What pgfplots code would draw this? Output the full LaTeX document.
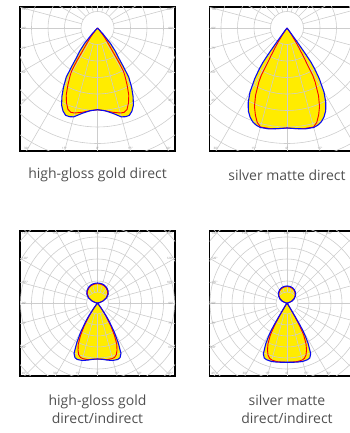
\documentclass[border=0pt]{standalone}
\usepackage{pgfplots}
\pgfplotsset{compat=1.18}
\usepackage{pgfplotstable}
\usepackage{fontspec}
\setmainfont{Open Sans}

\definecolor{ldcyellow}{RGB}{255,236,0}
\definecolor{ldcblue}{RGB}{10,10,240}
\definecolor{ldcred}{RGB}{250,0,0}
\definecolor{gridc}{RGB}{205,205,205}
\definecolor{txt}{RGB}{80,80,80}
\definecolor{labc}{RGB}{140,140,140}

% gamma (deg, 0 = straight down) and intensity (drawn radius)
\pgfplotstableread{
g r
-45 0
-42.5 8
-40 20
-37.5 29
-35 38
-34 45
-32.5 58
-30 68
-27.5 77
-25 85
-22.5 90
-20 93
-17.5 93
-15 92
-10 86.5
-5 83
0 81.7
5 83
10 86.5
15 92
17.5 93
20 93
22.5 90
25 85
27.5 77
30 68
32.5 58
34 45
35 38
37.5 29
40 20
42.5 8
45 0
}\goldblue
\pgfplotstableread{
g r
-42 0
-40 4
-37.5 11
-35 18
-33 28
-32 40
-31 50
-30 54.5
-27.5 64
-25 74
-22.5 81
-20 86.5
-17.5 88.5
-15 88
-10 85.5
-5 83
0 81.7
5 83
10 85.5
15 88
17.5 88.5
20 86.5
22.5 81
25 74
27.5 64
30 54.5
31 50
32 40
33 28
35 18
37.5 11
40 4
42 0
}\goldred

\pgfplotstableread{
g r
-38 0
-37 5
-36 18
-35.5 32
-35 42
-34 50
-32.5 60
-30 74
-27.5 84
-25 91.5
-22.5 96.5
-20 100
-17.5 102
-15 103
-10 102.5
-5 101
0 100
5 101
10 102.5
15 103
17.5 102
20 100
22.5 96.5
25 91.5
27.5 84
30 74
32.5 60
34 50
35 42
35.5 32
36 18
37 5
38 0
}\silverblue
\pgfplotstableread{
g r
-35 0
-34 7
-32.5 15
-31 24
-30 32
-28.5 54
-27.5 61
-25 74.5
-22.5 85
-20 92.5
-17.5 99
-15 102.5
-10 102
-5 101
0 100
5 101
10 102
15 102.5
17.5 99
20 92.5
22.5 85
25 74.5
27.5 61
28.5 54
30 32
31 24
32.5 15
34 7
35 0
}\silverred

\pgfplotstableread{
g r
-180 20
-170 19.8
-160 19.2
-150 18
-140 16.3
-130 14
-120 10.5
-110 6
-100 2
-95 0.5
-90 0
-38 0
-36 6
-34 15
-32.5 22
-30 33.5
-27.5 45
-25 55.5
-22.5 59
-20 60
-15 59.5
-10 58
-5 56.5
0 56
5 56.5
10 58
15 59.5
20 60
22.5 59
25 55.5
27.5 45
30 33.5
32.5 22
34 15
36 6
38 0
90 0
95 0.5
100 2
110 6
120 10.5
130 14
140 16.3
150 18
160 19.2
170 19.8
180 20
}\goldinblue
\pgfplotstableread{
g r
-180 19.3
-170 19.1
-160 18.5
-150 17.3
-140 15.6
-130 13.3
-120 9.8
-110 5.5
-100 1.8
-95 0.4
-90 0
-37 0
-36 3
-34 10
-32.5 16
-30 27
-27.5 37
-25 45.5
-22.5 51
-20 55
-17.5 57
-15 57.5
-10 57.5
-5 56.5
0 56
5 56.5
10 57.5
15 57.5
17.5 57
20 55
22.5 51
25 45.5
27.5 37
30 27
32.5 16
34 10
36 3
37 0
90 0
95 0.4
100 1.8
110 5.5
120 9.8
130 13.3
140 15.6
150 17.3
160 18.5
170 19.1
180 19.3
}\goldinred

\pgfplotstableread{
g r
-180 17
-170 16.8
-160 16.2
-150 15
-140 13.3
-130 11
-120 8.2
-110 5
-100 1.8
-95 0.5
-90 0
-33 0
-32 5
-31 15
-30.5 24
-30 31
-29 38
-27.5 46
-25 56
-22.5 59.5
-20 60.3
-15 60.5
-10 60
-5 59.5
0 59.3
5 59.5
10 60
15 60.5
20 60.3
22.5 59.5
25 56
27.5 46
29 38
30 31
30.5 24
31 15
32 5
33 0
90 0
95 0.5
100 1.8
110 5
120 8.2
130 11
140 13.3
150 15
160 16.2
170 16.8
180 17
}\silverinblue
\pgfplotstableread{
g r
-180 16.4
-170 16.2
-160 15.6
-150 14.4
-140 12.7
-130 10.4
-120 7.6
-110 4.5
-100 1.5
-95 0.4
-90 0
-31.5 0
-31 5
-30 15
-29 26
-27.5 36
-25 45
-22.5 51
-20 55.5
-17.5 58
-15 59
-10 59.5
-5 59.3
0 59.3
5 59.3
10 59.5
15 59
17.5 58
20 55.5
22.5 51
25 45
27.5 36
29 26
30 15
31 5
31.5 0
90 0
95 0.4
100 1.5
110 4.5
120 7.6
130 10.4
140 12.7
150 14.4
160 15.6
170 16.2
180 16.4
}\silverinred

\pgfplotsset{
  ldc/.style={x=1pt, y=1pt, xmin=-77.5, xmax=77.5,
    xtick=\empty, ytick=\empty, anchor=south west, clip=true,
    axis line style={line width=1.3pt, black}},
  fillcurve/.style={fill=ldcyellow, draw=none, data cs=polar},
  redcurve/.style={ldcred, line width=0.9pt, data cs=polar},
  bluecurve/.style={ldcblue, line width=1.1pt, data cs=polar},
}
\tikzset{
  lab/.style={font=\fontsize{3}{3}\selectfont, text=labc, inner sep=0.6pt},
  captxt/.style={font=\fontsize{14}{18}\selectfont, text=txt, align=center},
}

% polar grid: circles every #1, spokes every 15 deg starting at the first circle
\newcommand{\ldcgrid}[1]{%
  \pgfplotsinvokeforeach{1,...,14}{\draw[gridc, line width=0.6pt] (axis cs:0,0) circle[radius=##1*#1];}
  \pgfplotsinvokeforeach{0,15,...,345}{\draw[gridc, line width=0.6pt]
    (axis cs:{#1*cos(##1)},{#1*sin(##1)}) -- (axis cs:{300*cos(##1)},{300*sin(##1)});}
}
% angle labels where the spokes meet the frame
\newcommand{\toplabels}{%
  \node[lab, anchor=north west] at (axis cs:-76.5,20) {105°};
  \node[lab, anchor=north east] at (axis cs:76.5,20) {105°};
  \node[lab, anchor=west] at (axis cs:-76.5,0) {90°};
  \node[lab, anchor=east] at (axis cs:76.5,0) {90°};
  \node[lab, anchor=west] at (axis cs:-76.5,-20.8) {75°};
  \node[lab, anchor=east] at (axis cs:76.5,-20.8) {75°};
  \node[lab, anchor=west] at (axis cs:-76.5,-44.7) {60°};
  \node[lab, anchor=east] at (axis cs:76.5,-44.7) {60°};
  \node[lab, anchor=west] at (axis cs:-76.5,-72) {45°};
  \node[lab, anchor=east] at (axis cs:76.5,-72) {45°};
  \node[lab, anchor=south] at (axis cs:-71,-122) {30°};
  \node[lab, anchor=south] at (axis cs:-33,-122) {15°};
  \node[lab, anchor=south] at (axis cs:0,-122) {0°};
  \node[lab, anchor=south] at (axis cs:33,-122) {15°};
  \node[lab, anchor=south] at (axis cs:71,-122) {30°};
}
\newcommand{\botlabels}{%
  \node[lab, anchor=west] at (axis cs:-76.5,44.7) {120°};
  \node[lab, anchor=east] at (axis cs:76.5,44.7) {120°};
  \node[lab, anchor=west] at (axis cs:-76.5,20.8) {105°};
  \node[lab, anchor=east] at (axis cs:76.5,20.8) {105°};
  \node[lab, anchor=west] at (axis cs:-76.5,0) {90°};
  \node[lab, anchor=east] at (axis cs:76.5,0) {90°};
  \node[lab, anchor=west] at (axis cs:-76.5,-20.8) {75°};
  \node[lab, anchor=east] at (axis cs:76.5,-20.8) {75°};
  \node[lab, anchor=west] at (axis cs:-76.5,-44.7) {60°};
  \node[lab, anchor=east] at (axis cs:76.5,-44.7) {60°};
  \node[lab, anchor=south west] at (axis cs:-76.5,-72) {45°};
  \node[lab, anchor=south] at (axis cs:-41.9,-72) {30°};
  \node[lab, anchor=south] at (axis cs:-19.4,-72) {15°};
  \node[lab, anchor=south] at (axis cs:0,-72) {0°};
  \node[lab, anchor=south] at (axis cs:19.4,-72) {15°};
  \node[lab, anchor=south] at (axis cs:41.9,-72) {30°};
  \node[lab, anchor=south east] at (axis cs:76.5,-72) {45°};
  \node[lab, anchor=north west] at (axis cs:-76.5,71) {135°};
  \node[lab, anchor=north] at (axis cs:-41.9,71) {150°};
  \node[lab, anchor=north] at (axis cs:-19.4,71) {165°};
  \node[lab, anchor=north] at (axis cs:0,71) {180°};
  \node[lab, anchor=north] at (axis cs:19.4,71) {165°};
  \node[lab, anchor=north] at (axis cs:41.9,71) {150°};
  \node[lab, anchor=north east] at (axis cs:76.5,71) {135°};
}

\begin{document}
\begin{tikzpicture}
\useasboundingbox (0,0) rectangle (350pt,433pt);

% high-gloss gold direct
\begin{axis}[ldc, at={(20pt,282pt)}, ymin=-123, ymax=21]
  \addplot[fillcurve] table[x expr=\thisrow{g}-90, y=r] {\goldblue};
  \ldcgrid{16.5}
  \addplot[redcurve] table[x expr=\thisrow{g}-90, y=r] {\goldred};
  \addplot[bluecurve] table[x expr=\thisrow{g}-90, y=r] {\goldblue};
  \toplabels
\end{axis}

% silver matte direct
\begin{axis}[ldc, at={(209.5pt,282pt)}, ymin=-123, ymax=21]
  \addplot[fillcurve] table[x expr=\thisrow{g}-90, y=r] {\silverblue};
  \ldcgrid{16.5}
  \addplot[redcurve] table[x expr=\thisrow{g}-90, y=r] {\silverred};
  \addplot[bluecurve] table[x expr=\thisrow{g}-90, y=r] {\silverblue};
  \toplabels
\end{axis}

% high-gloss gold direct/indirect
\begin{axis}[ldc, at={(20pt,57pt)}, ymin=-73, ymax=72]
  \addplot[fillcurve] table[x expr=\thisrow{g}-90, y=r] {\goldinblue};
  \ldcgrid{11}
  \addplot[redcurve] table[x expr=\thisrow{g}-90, y=r] {\goldinred};
  \addplot[bluecurve] table[x expr=\thisrow{g}-90, y=r] {\goldinblue};
  \botlabels
\end{axis}

% silver matte direct/indirect
\begin{axis}[ldc, at={(209.5pt,57pt)}, ymin=-73, ymax=72]
  \addplot[fillcurve] table[x expr=\thisrow{g}-90, y=r] {\silverinblue};
  \ldcgrid{11}
  \addplot[redcurve] table[x expr=\thisrow{g}-90, y=r] {\silverinred};
  \addplot[bluecurve] table[x expr=\thisrow{g}-90, y=r] {\silverinblue};
  \botlabels
\end{axis}

\node[captxt] at (97.5pt,258pt) {high-gloss gold direct};
\node[captxt] at (287pt,258pt) {silver matte direct};
\node[captxt] at (97.5pt,24pt) {high-gloss gold\\direct/indirect};
\node[captxt] at (287pt,24pt) {silver matte\\direct/indirect};
\end{tikzpicture}
\end{document}
